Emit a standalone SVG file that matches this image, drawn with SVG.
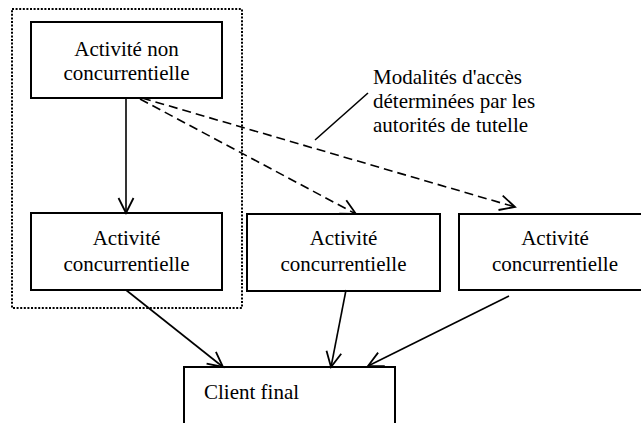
<svg xmlns="http://www.w3.org/2000/svg" width="641" height="423" viewBox="0 0 641 423">
  <style>
    .box { fill: #ffffff; stroke: #000000; stroke-width: 2; }
    .frame { fill: none; stroke: #000000; stroke-width: 2; stroke-dasharray: 2 1.6; }
    text { font-family: 'Liberation Serif', Tinos, 'Noto Serif', 'DejaVu Serif', 'Times New Roman', Times, serif; font-size: 21px; fill: #000000; }
    .mid { text-anchor: middle; }
    .solid { fill: none; stroke: #000000; stroke-width: 1.6; }
    .dash { fill: none; stroke: #000000; stroke-width: 1.6; stroke-dasharray: 9 5; }
  </style>
  <defs>
    <marker id="open" markerUnits="userSpaceOnUse" markerWidth="20" markerHeight="20" viewBox="-17 -10 20 20" refX="0" refY="0" orient="auto" overflow="visible">
      <path d="M-15,-7.5 L0,0 L-15,7.5" fill="none" stroke="#000000" stroke-width="1.8"/>
    </marker>
  </defs>
  <rect width="641" height="423" fill="#ffffff"/>

  <!-- dotted grouping frame -->
  <rect id="grouping" class="frame" x="12" y="9" width="230" height="299"/>

  <g id="node-non-concurrentielle">
    <rect class="box" x="31" y="22" width="191" height="76"/>
    <text class="mid" x="126.5" y="56">Activité non</text>
    <text class="mid" x="126.5" y="80">concurrentielle</text>
  </g>

  <g id="node-concurrentielle-1">
    <rect class="box" x="31" y="213" width="191" height="77"/>
    <text class="mid" x="126.5" y="245">Activité</text>
    <text class="mid" x="126.5" y="271">concurrentielle</text>
  </g>

  <g id="node-concurrentielle-2">
    <rect class="box" x="247" y="214" width="193" height="77"/>
    <text class="mid" x="343.5" y="245">Activité</text>
    <text class="mid" x="343.5" y="271">concurrentielle</text>
  </g>

  <g id="node-concurrentielle-3">
    <rect class="box" x="459" y="214" width="193" height="76"/>
    <text class="mid" x="555" y="245">Activité</text>
    <text class="mid" x="555" y="271">concurrentielle</text>
  </g>

  <g id="node-client">
    <rect class="box" x="184" y="367" width="211" height="80"/>
    <text x="204" y="399">Client final</text>
  </g>

  <g id="note">
    <text x="373" y="84">Modalités d'accès</text>
    <text x="373" y="108">déterminées par les</text>
    <text x="373" y="132">autorités de tutelle</text>
  </g>

  <g id="connectors">
    <line class="solid" x1="126" y1="98" x2="126" y2="213" marker-end="url(#open)"/>
    <line class="dash" x1="140" y1="99" x2="356" y2="214" marker-end="url(#open)"/>
    <line class="dash" x1="142" y1="98" x2="515" y2="207" marker-end="url(#open)"/>
    <line class="solid" x1="315" y1="140" x2="368" y2="93"/>
    <line class="solid" x1="126" y1="290" x2="223" y2="367" marker-end="url(#open)"/>
    <line class="solid" x1="346" y1="290" x2="331" y2="367" marker-end="url(#open)"/>
    <line class="solid" x1="509" y1="296" x2="368" y2="366" marker-end="url(#open)"/>
  </g>
</svg>
